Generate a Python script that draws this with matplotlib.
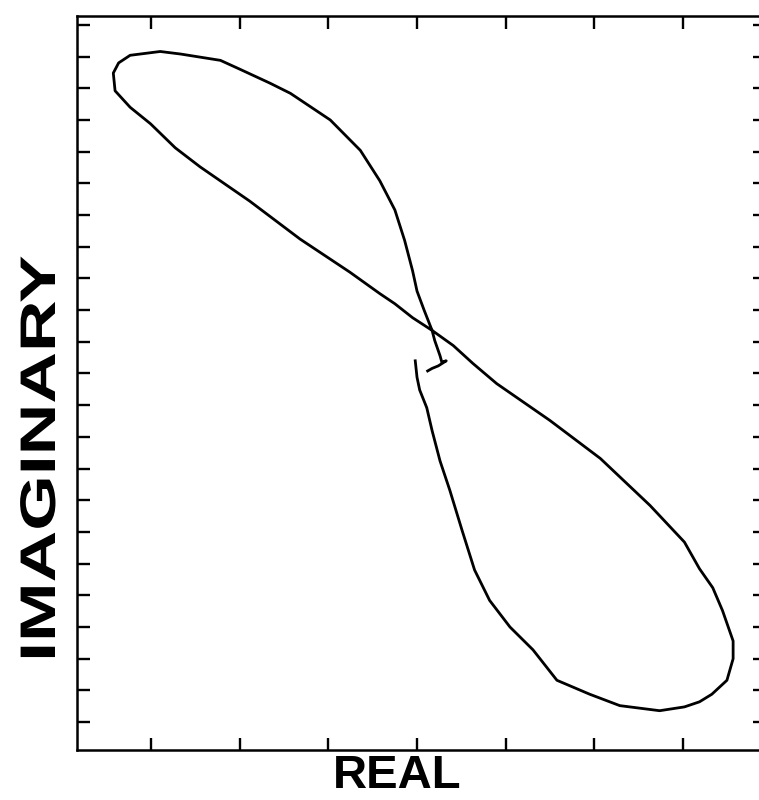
import matplotlib
matplotlib.use("Agg")
import matplotlib.pyplot as plt
import matplotlib.patheffects as pe
from matplotlib.transforms import Affine2D
import numpy as np

plt.rcParams['font.family'] = ['Liberation Sans', 'DejaVu Sans']

# Nyquist-style trace (real, imaginary)
real = [-0.02, 0.00, 0.03, 0.11, 0.17, 0.26, 0.37, 0.51, 0.65, 0.82, 1.05, 1.31,
        1.58, 1.95, 2.29, 2.74, 3.02, 3.19, 3.33, 3.50, 3.57, 3.57, 3.45, 3.34,
        3.19, 3.02, 2.63, 2.07, 1.50, 0.90, 0.63, 0.41, 0.17, -0.05, -0.25, -0.42,
        -0.76, -1.32, -1.89, -2.45, -2.73, -3.01, -3.24, -3.41, -3.43, -3.37, -3.24,
        -2.90, -2.67, -2.22, -2.00, -1.66, -1.43, -0.98, -0.64, -0.42, -0.25, -0.14,
        -0.05, 0.00, 0.08, 0.17, 0.20, 0.26, 0.28, 0.33, 0.24, 0.17, 0.12]
imag = [0.10, -0.03, -0.13, -0.27, -0.45, -0.69, -0.92, -1.24, -1.55, -1.79, -2.00, -2.18,
        -2.42, -2.53, -2.62, -2.66, -2.63, -2.59, -2.53, -2.42, -2.25, -2.11, -1.87, -1.69,
        -1.54, -1.33, -1.04, -0.67, -0.37, -0.08, 0.08, 0.22, 0.34, 0.44, 0.55, 0.63,
        0.80, 1.06, 1.36, 1.63, 1.78, 1.97, 2.10, 2.23, 2.37, 2.45, 2.51,
        2.54, 2.52, 2.47, 2.40, 2.29, 2.21, 2.00, 1.76, 1.52, 1.29, 1.05,
        0.81, 0.65, 0.50, 0.34, 0.26, 0.14, 0.09, 0.10, 0.06, 0.04, 0.02]

x_ticks = np.arange(-3, 4, 1)
y_ticks = np.arange(-2.75, 2.76, 0.25)


class Stretch(pe.AbstractPathEffect):
    """stretch the glyphs about a display point (the label is drawn wide)"""
    def __init__(self, sx=1.0, sy=1.0, center=(0, 0)):
        super().__init__()
        self.sx, self.sy, self.center = sx, sy, center

    def draw_path(self, renderer, gc, tpath, affine, rgbFace=None):
        cx, cy = self.center
        st = Affine2D().translate(-cx, -cy).scale(self.sx, self.sy).translate(cx, cy)
        renderer.draw_path(gc, tpath, affine + st, rgbFace)


fig = plt.figure(figsize=(7.59, 8.0), dpi=100)
# right edge of the frame falls just outside the page in the scan
ax = fig.add_axes([77 / 759, 50 / 800, 688 / 759, 734 / 800])

ax.plot(real, imag, color='black', lw=2.0)

ax.set_xlim(-3.84, 3.93)
ax.set_ylim(-2.97, 2.82)
ax.set_xticks(x_ticks)
ax.set_yticks(y_ticks)
ax.tick_params(direction='in', length=9, width=1.7, top=True, right=True,
               labelbottom=False, labelleft=False)
for s in ax.spines.values():
    s.set_linewidth(1.8)
ax.spines['right'].set_visible(False)

fig.text(397 / 759, 2 / 800, 'REAL', fontsize=34, fontweight='bold',
         ha='center', va='bottom')
fig.text(55 / 759, 1 - 458.5 / 800, 'IMAGINARY', fontsize=36, fontweight='bold',
         rotation=90, rotation_mode='anchor', ha='center', va='baseline',
         path_effects=[Stretch(1.0, 1.43, center=(55, 800 - 458.5))])

fig.savefig('out.png', dpi=100)
